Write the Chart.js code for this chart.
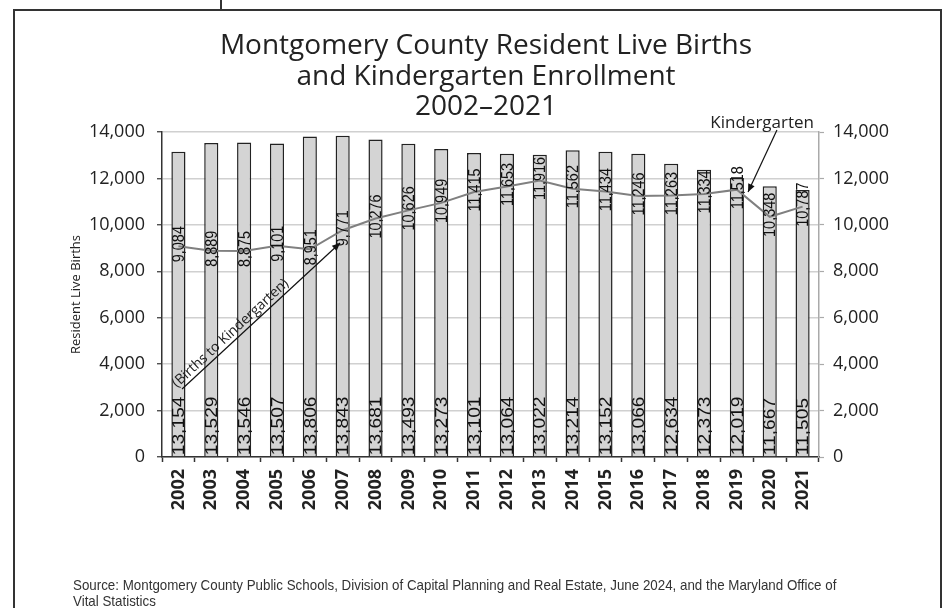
<!DOCTYPE html>
<html>
<head>
<meta charset="utf-8">
<script src="https://cdn.jsdelivr.net/npm/chart.js@4.4.0/dist/chart.umd.min.js"></script>
<style>
  html, body { margin: 0; padding: 0; background: #fff; overflow: hidden; }
  #wrap { position: relative; width: 943px; height: 608px; }
  #frame { position: absolute; left: 13px; top: 9px; width: 925px; height: 640px; border: 2px solid #333; }
  #stub { position: absolute; left: 220px; top: 0; width: 2px; height: 10px; background: #333; }
  #chart { position: absolute; left: 0; top: 0; }
  #source { position: absolute; left: 73px; top: 577px; font: 15px 'Liberation Sans', Arial, sans-serif;
            line-height: 16px; color: #333; transform: scaleX(0.89); transform-origin: 0 0; white-space: nowrap; }
</style>
</head>
<body>
<div id="wrap">
  <div id="frame"></div>
  <div id="stub"></div>
  <canvas id="chart" width="943" height="608"></canvas>
  <div id="source">Source: Montgomery County Public Schools, Division of Capital Planning and Real Estate, June 2024, and the Maryland Office of<br>Vital Statistics</div>
</div>
<script>
// data
let years = ['2002','2003','2004','2005','2006','2007','2008','2009','2010','2011',
             '2012','2013','2014','2015','2016','2017','2018','2019','2020','2021'];
let births = [13154,13529,13546,13507,13806,13843,13681,13493,13273,13101,
              13064,13022,13214,13152,13066,12634,12373,12019,11667,11505];
let kinder = [9084,8889,8875,9101,8951,9771,10276,10626,10949,11415,
              11653,11916,11562,11434,11246,11263,11334,11518,10348,10787];
let yTicks = [0,2000,4000,6000,8000,10000,12000,14000];

// arrows (x = category index, y = axis value)
let notes = [
    { text: '(Births to Kindergarten)', from: [0.11, 2930], to: [4.92, 9220], along: true },
    { text: 'Kindergarten', from: [18.22, 14090], to: [17.34, 11415], at: [17.77, 14390] }
];

const fmt = v => v.toLocaleString('en-US');

function arrow(ctx, x1, y1, x2, y2) {
    ctx.beginPath();
    ctx.moveTo(x1, y1);
    ctx.lineTo(x2, y2);
    ctx.stroke();
    let a = Math.atan2(y2 - y1, x2 - x1), L = 8, W = 3.5;
    ctx.beginPath();
    ctx.moveTo(x2, y2);
    ctx.lineTo(x2 - L * Math.cos(a) + W * Math.sin(a), y2 - L * Math.sin(a) - W * Math.cos(a));
    ctx.lineTo(x2 - L * Math.cos(a) - W * Math.sin(a), y2 - L * Math.sin(a) + W * Math.cos(a));
    ctx.closePath();
    ctx.fill();
}

// value labels inside bars and on the line
const valueLabels = {
    id: 'valueLabels',
    afterDatasetsDraw(chart) {
        let ctx = chart.ctx;
        let bars = chart.getDatasetMeta(0).data;
        let pts = chart.getDatasetMeta(1).data;
        ctx.save();
        ctx.fillStyle = '#111';
        ctx.font = '17px "Liberation Sans", Arial, sans-serif';
        ctx.textBaseline = 'middle';
        bars.forEach((bar, i) => {
            ctx.save();
            ctx.translate(bar.x, bar.base - 1);
            ctx.rotate(-Math.PI / 2);
            ctx.scale(1.13, 1);
            ctx.textAlign = 'left';
            ctx.fillText(fmt(births[i]), 0, 1);
            ctx.restore();
        });
        pts.forEach((p, i) => {
            ctx.save();
            ctx.translate(p.x, p.y - 2);
            ctx.rotate(-Math.PI / 2);
            ctx.scale(0.85, 1);
            ctx.textAlign = 'center';
            ctx.fillText(fmt(kinder[i]), 0, 1);
            ctx.restore();
        });
        ctx.restore();
    }
};

const arrows = {
    id: 'arrows',
    afterDraw(chart) {
        let ctx = chart.ctx;
        let sx = chart.scales.x, sy = chart.scales.y;
        ctx.save();
        ctx.strokeStyle = '#111';
        ctx.fillStyle = '#111';
        ctx.lineWidth = 1.2;
        notes.forEach(n => {
            let x1 = sx.getPixelForValue(n.from[0]), y1 = sy.getPixelForValue(n.from[1]);
            let x2 = sx.getPixelForValue(n.to[0]), y2 = sy.getPixelForValue(n.to[1]);
            arrow(ctx, x1, y1, x2, y2);
            ctx.fillStyle = '#222';
            if (n.along) {
                ctx.save();
                ctx.translate(x1, y1);
                ctx.rotate(Math.atan2(y2 - y1, x2 - x1));
                ctx.font = '14px "Open Sans", sans-serif';
                ctx.textAlign = 'left';
                ctx.textBaseline = 'alphabetic';
                ctx.fillText(n.text, -3, -4);
                ctx.restore();
            } else {
                ctx.font = '17px "Open Sans", sans-serif';
                ctx.textAlign = 'center';
                ctx.textBaseline = 'middle';
                ctx.fillText(n.text, sx.getPixelForValue(n.at[0]), sy.getPixelForValue(n.at[1]));
            }
            ctx.fillStyle = '#111';
        });
        ctx.restore();
    }
};

const tickFont = { family: 'Open Sans', size: 18 };

new Chart(document.getElementById('chart'), {
    data: {
        labels: years,
        datasets: [{
            type: 'bar',
            label: 'Resident Live Births',
            data: births,
            backgroundColor: '#d4d4d4',
            borderColor: '#222',
            borderWidth: 1.5,
            barPercentage: 0.43,
            categoryPercentage: 1.0,
            yAxisID: 'y',
            order: 1
        }, {
            type: 'line',
            label: 'Kindergarten',
            data: kinder,
            borderColor: '#808080',
            borderWidth: 2,
            pointRadius: 0,
            tension: 0,
            yAxisID: 'y1',
            order: 0
        }]
    },
    options: {
        responsive: false,
        animation: false,
        devicePixelRatio: 1,
        layout: { padding: { left: 40, right: 11, top: 8, bottom: 0 } },
        plugins: {
            legend: { display: false },
            tooltip: { enabled: false },
            title: {
                display: true,
                text: ['Montgomery County Resident Live Births', 'and Kindergarten Enrollment', '2002\u20132021'],
                color: '#222',
                font: { family: 'Open Sans', size: 28, weight: 'normal', lineHeight: 1.09 },
                padding: { top: 23, bottom: 9.5 }
            }
        },
        scales: {
            x: {
                offset: true,
                grid: { display: true, drawOnChartArea: false, drawTicks: true, tickLength: 5, offset: true, tickColor: '#333', tickWidth: 1.5 },
                border: { color: '#333', width: 1.5 },
                ticks: { autoSkip: false, minRotation: 90, maxRotation: 90, padding: 7, color: '#222',
                         font: { family: 'Open Sans', size: 18, weight: 'bold' } },
                afterFit(s) { s.height = 151; }
            },
            y: {
                position: 'left', min: 0, max: 14000,
                afterBuildTicks(s) { s.ticks = yTicks.map(v => ({ value: v })); },
                ticks: { padding: 12, color: '#222', font: tickFont, callback: v => fmt(v) },
                grid: { color: '#d0d0d0', lineWidth: 1.5, tickLength: 5, tickColor: '#333', tickWidth: 1.2 },
                border: { color: '#333', width: 1.5 },
                title: { display: true, text: 'Resident Live Births', color: '#222',
                         font: { family: 'Open Sans', size: 13 }, padding: { top: 28, bottom: 0 } },
                afterFit(s) { s.width = 122; }
            },
            y1: {
                position: 'right', min: 0, max: 14000,
                afterBuildTicks(s) { s.ticks = yTicks.map(v => ({ value: v })); },
                ticks: { padding: 9, color: '#222', font: tickFont, callback: v => fmt(v) },
                grid: { drawOnChartArea: false, tickLength: 5, tickColor: '#aaa', tickWidth: 1.2 },
                border: { color: '#aaa', width: 1.5 },
                afterFit(s) { s.width = 113; }
            }
        }
    },
    plugins: [valueLabels, arrows]
});
</script>
</body>
</html>
